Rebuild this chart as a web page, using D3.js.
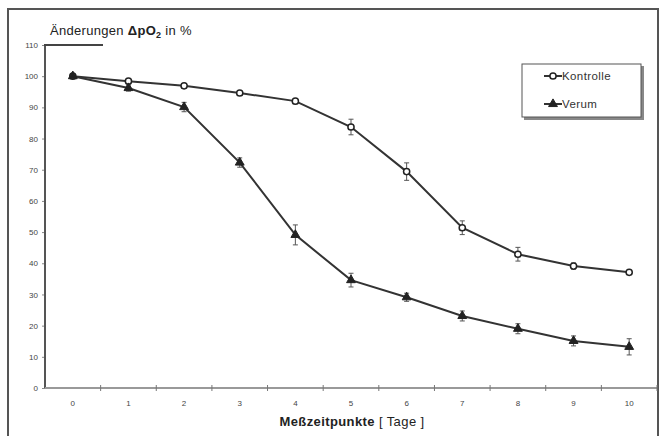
<!DOCTYPE html>
<html>
<head>
<meta charset="utf-8">
<script src="https://cdn.jsdelivr.net/npm/d3@7"></script>
<style>
  body { margin: 0; background: #fff; }
  svg { display: block; font-family: "Liberation Sans", Arial, sans-serif; }
</style>
</head>
<body>
<svg id="chart" width="661" height="436"></svg>
<script>
// days of measurement
const days = [0, 1, 2, 3, 4, 5, 6, 7, 8, 9, 10];
const kontrolle = [100, 98.4, 96.9, 94.6, 92.0, 83.7, 69.4, 51.4, 42.9, 39.1, 37.1];
const kontrolleErr = [0, 0.6, 0.6, 0.6, 0.8, 2.5, 2.8, 2.2, 2.2, 1.0, 0.6];
const verum = [100, 96.2, 90.1, 72.3, 49.1, 34.6, 29.1, 23.1, 19.0, 15.1, 13.2];
const verumErr = [0, 1.0, 1.5, 1.5, 3.2, 2.2, 1.3, 1.6, 1.6, 1.6, 2.6];
const yTicks = [0, 10, 20, 30, 40, 50, 60, 70, 80, 90, 100, 110];

const svg = d3.select("#chart");

// outer frame
svg.append("rect")
  .attr("x", 8).attr("y", 9)
  .attr("width", 650).attr("height", 432)
  .attr("fill", "none")
  .attr("stroke", "#555")
  .attr("stroke-width", 2);

const plotLeft = 45, plotRight = 657, plotTop = 45, plotBottom = 388;

let x = d3.scaleBand()
  .domain(days)
  .range([plotLeft, plotRight]);

let y = d3.scaleLinear()
  .domain([0, 110])
  .range([plotBottom, plotTop]);

// y axis
const yAxis = svg.append("g")
  .attr("transform", `translate(${plotLeft},0)`)
  .call(d3.axisLeft(y).tickValues(yTicks).tickSize(3).tickPadding(4));
yAxis.select(".domain").remove();
yAxis.selectAll(".tick line").attr("stroke", "#888");
yAxis.selectAll(".tick text")
  .attr("fill", "#444")
  .style("font-size", "8px");

svg.append("line")
  .attr("x1", plotLeft).attr("x2", plotLeft)
  .attr("y1", y(110)).attr("y2", plotBottom)
  .attr("stroke", "#555").attr("stroke-width", 2);
// bracket at the top of the y axis
svg.append("line")
  .attr("x1", plotLeft - 1).attr("x2", 103)
  .attr("y1", y(110)).attr("y2", y(110))
  .attr("stroke", "#444").attr("stroke-width", 2);

// x axis
const xAxis = svg.append("g")
  .attr("transform", `translate(0,${plotBottom})`)
  .call(d3.axisBottom(x).tickSize(0).tickPadding(12));
xAxis.select(".domain").remove();
xAxis.selectAll(".tick text")
  .attr("fill", "#444")
  .style("font-size", "8px");

svg.append("line")
  .attr("x1", plotLeft).attr("x2", plotRight)
  .attr("y1", plotBottom).attr("y2", plotBottom)
  .attr("stroke", "#999").attr("stroke-width", 2);

// tick marks between categories
svg.selectAll(".xsep")
  .data(days.map(d => x(d) + x.bandwidth()))
  .enter()
  .append("line")
  .attr("x1", d => d).attr("x2", d => d)
  .attr("y1", plotBottom - 3).attr("y2", plotBottom + 3)
  .attr("stroke", "#777");

// axis titles
svg.append("text")
  .attr("x", 50).attr("y", 35)
  .style("font-size", "13px")
  .style("letter-spacing", "0.3px")
  .attr("fill", "#222")
  .html('Änderungen <tspan font-weight="bold">ΔpO</tspan><tspan font-weight="bold" font-size="9px" dy="3">2</tspan><tspan dy="-3"> in %</tspan>');

svg.append("text")
  .attr("x", 352).attr("y", 426)
  .attr("text-anchor", "middle")
  .style("font-size", "13px")
  .style("letter-spacing", "0.4px")
  .attr("fill", "#222")
  .html('<tspan font-weight="bold">Meßzeitpunkte</tspan>  [ Tage ]');

// series
const cx = d => x(d) + x.bandwidth() / 2;
const series = [
  { name: "Kontrolle", values: kontrolle, err: kontrolleErr, marker: "circle" },
  { name: "Verum", values: verum, err: verumErr, marker: "triangle" }
];

let line = d3.line()
  .x((d, i) => cx(days[i]))
  .y(d => y(d));

series.forEach(s => {
  // error bars
  const eb = svg.append("g").attr("stroke", "#555").attr("stroke-width", 1);
  days.forEach((d, i) => {
    if (s.err[i] <= 0) return;
    const hi = y(s.values[i] + s.err[i]), lo = y(s.values[i] - s.err[i]);
    eb.append("line").attr("x1", cx(d)).attr("x2", cx(d)).attr("y1", hi).attr("y2", lo);
    eb.append("line").attr("x1", cx(d) - 2.5).attr("x2", cx(d) + 2.5).attr("y1", hi).attr("y2", hi);
    eb.append("line").attr("x1", cx(d) - 2.5).attr("x2", cx(d) + 2.5).attr("y1", lo).attr("y2", lo);
  });

  svg.append("path")
    .datum(s.values)
    .attr("d", line)
    .attr("fill", "none")
    .attr("stroke", "#333")
    .attr("stroke-width", 2);
});

const sym = {
  circle: d3.symbol().type(d3.symbolCircle).size(30),
  triangle: d3.symbol().type(d3.symbolTriangle).size(34)
};

series.forEach(s => {
  svg.selectAll(".m-" + s.name)
    .data(s.values)
    .enter()
    .append("path")
    .attr("transform", (d, i) => `translate(${cx(days[i])},${y(d)})`)
    .attr("d", sym[s.marker])
    .attr("fill", s.marker === "circle" ? "#fff" : "#222")
    .attr("stroke", "#222")
    .attr("stroke-width", s.marker === "circle" ? 1.5 : 1);
});

// legend
const lg = svg.append("g");
lg.append("rect")
  .attr("x", 524).attr("y", 66)
  .attr("width", 120).attr("height", 54)
  .attr("fill", "#888");
lg.append("rect")
  .attr("x", 522).attr("y", 64)
  .attr("width", 119).attr("height", 53)
  .attr("fill", "#fff")
  .attr("stroke", "#555")
  .attr("stroke-width", 1);

series.forEach((s, i) => {
  const ly = 76 + i * 28;
  lg.append("line")
    .attr("x1", 544).attr("x2", 562)
    .attr("y1", ly).attr("y2", ly)
    .attr("stroke", "#333").attr("stroke-width", 2);
  lg.append("path")
    .attr("transform", `translate(553,${ly})`)
    .attr("d", sym[s.marker])
    .attr("fill", s.marker === "circle" ? "#fff" : "#222")
    .attr("stroke", "#222")
    .attr("stroke-width", s.marker === "circle" ? 1.5 : 1);
  lg.append("text")
    .attr("x", 562).attr("y", ly + 4)
    .style("font-size", "11.5px")
    .style("letter-spacing", "0.4px")
    .attr("fill", "#333")
    .text(s.name);
});
</script>
</body>
</html>
